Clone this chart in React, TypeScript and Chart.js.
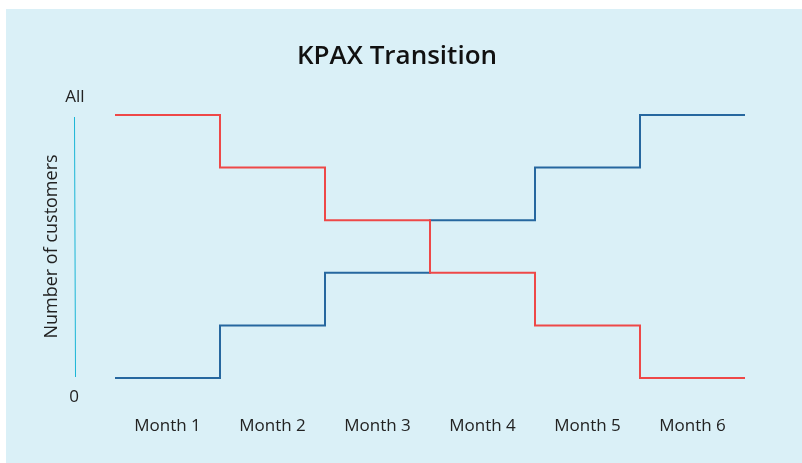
import React, { useEffect, useRef } from "react";
import { Chart, registerables } from "chart.js";

Chart.register(...registerables);

const months = ["Month 1", "Month 2", "Month 3", "Month 4", "Month 5", "Month 6"];
// customer level per month (0 = none, 5 = all)
const oldSystem = [5, 4, 3, 2, 1, 0];
const newSystem = [0, 1, 2, 3, 4, 5];
const yTickLabels = ["0", "All"];
const yMin = 0;
const yMax = 5;

const FONT = "'Open Sans', Lato, sans-serif";

function stepPoints(vals: number[]) {
  const pts = vals.map((v, i) => ({ x: i, y: v }));
  pts.push({ x: vals.length, y: vals[vals.length - 1] });
  return pts;
}

const yAxisDecor = {
  id: "yAxisDecor",
  afterDraw(chart: any) {
    const { ctx, scales } = chart;
    const y = scales.y;
    const top = y.getPixelForValue(yMax);
    const bottom = y.getPixelForValue(yMin);
    const x = 69;
    ctx.save();
    ctx.strokeStyle = "#19b5d6";
    ctx.lineWidth = 1;
    ctx.beginPath();
    ctx.moveTo(x - 0.5, top + 2);
    ctx.lineTo(x + 0.5, bottom - 1);
    ctx.stroke();
    ctx.fillStyle = "#222";
    ctx.font = `17px ${FONT}`;
    ctx.textAlign = "center";
    ctx.textBaseline = "middle";
    ctx.fillText(yTickLabels[1], x, top - 18);
    ctx.fillText(yTickLabels[0], x - 1, bottom + 19);
    ctx.restore();
  },
};

export default function App() {
  const ref = useRef<HTMLCanvasElement>(null);
  useEffect(() => {
    if (!ref.current) return;
    const chart = new Chart(ref.current, {
      type: "line",
      data: {
        datasets: [
          {
            label: "Old",
            data: stepPoints(oldSystem),
            borderColor: "#ee4848",
            borderWidth: 2,
            pointRadius: 0,
            stepped: true,
            fill: false,
            clip: false as any,
            yAxisID: "y",
          },
          {
            label: "New",
            data: stepPoints(newSystem),
            borderColor: "#26679f",
            borderWidth: 2,
            pointRadius: 0,
            stepped: true,
            fill: false,
            clip: false as any,
            yAxisID: "y",
          },
        ],
      },
      options: {
        animation: false,
        responsive: true,
        maintainAspectRatio: false,
        layout: { padding: 0 },
        plugins: {
          legend: { display: false },
          tooltip: { enabled: false },
          title: {
            display: true,
            text: "KPAX Transition",
            color: "#111",
            font: { family: FONT, size: 26, weight: "600" as any },
            padding: { top: 32.4, bottom: 42.4 },
          },
        },
        scales: {
          x: {
            type: "linear",
            min: 0,
            max: months.length,
            grid: { display: false, drawTicks: false },
            border: { display: false },
            afterBuildTicks: (scale: any) => {
              scale.ticks = months.map((_, i) => ({ value: i + 0.5 }));
            },
            ticks: {
              autoSkip: false,
              maxRotation: 0,
              padding: 38,
              color: "#222",
              font: { family: FONT, size: 17 },
              callback: (v: any) => months[Math.round(Number(v) - 0.5)] ?? "",
            },
            afterFit: (scale: any) => {
              scale.height = 85;
            },
          },
          y: {
            type: "linear",
            position: "left",
            min: yMin,
            max: yMax,
            grid: { display: false, drawTicks: false },
            border: { display: false },
            ticks: { display: false },
            title: {
              display: true,
              text: "Number of customers",
              color: "#222",
              font: { family: FONT, size: 18 },
              padding: { top: 35.2, bottom: 0 },
            },
            afterFit: (scale: any) => {
              scale.width = 109;
            },
          },
          y2: {
            type: "linear",
            position: "right",
            display: true,
            grid: { display: false, drawTicks: false },
            border: { display: false },
            ticks: { display: false },
            afterFit: (scale: any) => {
              scale.width = 43;
            },
          },
        },
      },
      plugins: [yAxisDecor],
    });
    return () => chart.destroy();
  }, []);

  return (
    <div
      style={{
        position: "absolute",
        left: 6,
        top: 9,
        width: 796,
        height: 454,
        background: "#daf0f7",
      }}
    >
      <div style={{ position: "relative", width: 782, height: 454 }}>
        <canvas ref={ref} />
      </div>
    </div>
  );
}
